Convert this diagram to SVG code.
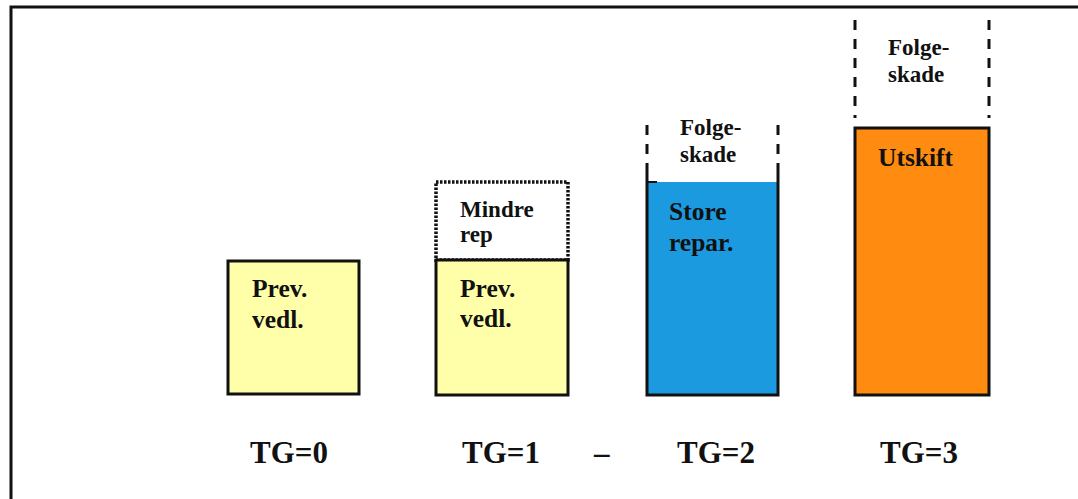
<svg xmlns="http://www.w3.org/2000/svg" width="1078" height="499" viewBox="0 0 1078 499">
<style>
.t{font-family:"Liberation Serif","Times New Roman",serif;font-weight:bold;fill:#111;}
.s24{font-size:25.5px;}
.s22{font-size:23px;}
.lbl{font-size:31px;}
.box{stroke:#111;stroke-width:3;}
.dash{stroke:#111;stroke-width:3;stroke-dasharray:10 9;fill:none;}
</style>
<rect width="1078" height="499" fill="#fff"/>
<g id="frame" fill="none" stroke="#111" stroke-width="3">
<path d="M11 499 V7 H1078"/>
</g>
<g id="tg0">
<rect class="box" x="228" y="261" width="131" height="133" fill="#FFFFAA"/>
<text class="t s24" x="252" y="297">Prev.</text>
<text class="t s24" x="252" y="328">vedl.</text>
</g>
<g id="tg1">
<rect x="436" y="182" width="132" height="78" fill="#fff" stroke="#111" stroke-width="3.5" stroke-dasharray="2.5 1.5"/>
<rect class="box" x="436" y="260" width="132" height="135" fill="#FFFFAA"/>
<text class="t s22" x="460" y="217">Mindre</text>
<text class="t s22" x="460" y="242">rep</text>
<text class="t s24" x="460" y="297">Prev.</text>
<text class="t s24" x="460" y="327">vedl.</text>
</g>
<g id="tg2">
<rect x="647" y="182" width="131" height="213" fill="#1B9AE0"/>
<path d="M647 169 V395 H778 V169" fill="none" stroke="#111" stroke-width="3"/>
<path d="M647 182 H657" stroke="#111" stroke-width="2"/>
<path class="dash" d="M647 125 V169"/>
<path class="dash" d="M778 125 V169"/>
<text class="t s22" x="680" y="135">Folge-</text>
<text class="t s22" x="680" y="162">skade</text>
<text class="t s24" x="669" y="220">Store</text>
<text class="t s24" x="669" y="251">repar.</text>
</g>
<g id="tg3">
<rect class="box" x="855" y="128" width="134" height="267" fill="#FF8C10"/>
<path class="dash" d="M855 20 V118"/>
<path class="dash" d="M989 20 V118"/>
<text class="t s22" x="888" y="55">Folge-</text>
<text class="t s22" x="888" y="82">skade</text>
<text class="t s24" x="878" y="166">Utskift</text>
</g>
<g id="labels">
<text class="t lbl" x="250" y="463">TG=0</text>
<text class="t lbl" x="462" y="463">TG=1</text>
<text class="t lbl" x="594" y="463">–</text>
<text class="t lbl" x="677" y="463">TG=2</text>
<text class="t lbl" x="880" y="463">TG=3</text>
</g>
<g id="connectors"/>
</svg>
